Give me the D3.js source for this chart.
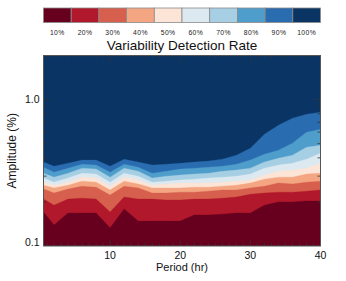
<!DOCTYPE html>
<html>
<head>
<meta charset="utf-8">
<script src="https://cdn.jsdelivr.net/npm/d3@7"></script>
<style>
  body { margin: 0; background: #fff; }
  svg { display: block; font-family: "Liberation Sans", Arial, sans-serif; }
</style>
</head>
<body>
<svg id="chart" width="346" height="281"></svg>
<script>
// period grid (hr)
const periods = [0.5, 2, 4, 6, 8, 10, 12, 14, 16, 18, 20, 22, 24, 26, 28, 30, 32, 34, 36, 38, 40];
const levelLabels = ["10%", "20%", "30%", "40%", "50%", "60%", "70%", "80%", "90%", "100%"];
const levelColors = ["#67001f", "#b2182b", "#d6604d", "#f4a582", "#fce4d6",
                     "#dde9f1", "#a6cfe4", "#4f9dcb", "#2a6cb0", "#0a3463"];

// amplitude (%) where detection rate crosses each level (upper edge of each band)
const edge10 = [0.171, 0.139, 0.168, 0.168, 0.168, 0.133, 0.179, 0.148, 0.148, 0.148, 0.148, 0.163, 0.163, 0.165, 0.168, 0.168, 0.190, 0.200, 0.200, 0.203, 0.203];
const edge20 = [0.209, 0.190, 0.209, 0.212, 0.209, 0.171, 0.216, 0.209, 0.209, 0.206, 0.206, 0.209, 0.209, 0.212, 0.216, 0.226, 0.230, 0.233, 0.233, 0.237, 0.241];
const edge30 = [0.245, 0.230, 0.245, 0.256, 0.252, 0.223, 0.256, 0.249, 0.230, 0.230, 0.233, 0.233, 0.237, 0.241, 0.241, 0.249, 0.256, 0.269, 0.265, 0.273, 0.277];
const edge40 = [0.260, 0.249, 0.260, 0.277, 0.273, 0.241, 0.277, 0.265, 0.249, 0.249, 0.249, 0.252, 0.252, 0.256, 0.260, 0.269, 0.286, 0.295, 0.295, 0.310, 0.314];
const edge50 = [0.273, 0.260, 0.273, 0.295, 0.291, 0.256, 0.295, 0.282, 0.260, 0.265, 0.269, 0.269, 0.269, 0.273, 0.277, 0.282, 0.305, 0.324, 0.330, 0.340, 0.368];
const edge60 = [0.291, 0.273, 0.291, 0.314, 0.310, 0.273, 0.314, 0.300, 0.273, 0.277, 0.282, 0.286, 0.291, 0.295, 0.300, 0.310, 0.340, 0.357, 0.368, 0.392, 0.430];
const edge70 = [0.314, 0.295, 0.314, 0.340, 0.335, 0.295, 0.340, 0.324, 0.291, 0.300, 0.305, 0.310, 0.314, 0.324, 0.330, 0.340, 0.374, 0.398, 0.417, 0.473, 0.488];
const edge80 = [0.345, 0.319, 0.340, 0.362, 0.357, 0.319, 0.362, 0.345, 0.314, 0.324, 0.335, 0.340, 0.345, 0.351, 0.362, 0.386, 0.424, 0.451, 0.504, 0.599, 0.627];
const edge90 = [0.374, 0.351, 0.368, 0.386, 0.386, 0.351, 0.392, 0.374, 0.357, 0.362, 0.368, 0.374, 0.380, 0.392, 0.417, 0.466, 0.580, 0.668, 0.746, 0.794, 0.819];
const edges = [edge10, edge20, edge30, edge40, edge50, edge60, edge70, edge80, edge90];

const xTicks = [10, 20, 30, 40];
const yTicks = [0.1, 1.0];

const plot = { left: 43.5, right: 320.5, top: 55.5, bottom: 246 };
const svg = d3.select("#chart");

const x = d3.scaleLinear().domain([0.5, 40]).range([plot.left, plot.right]);
const y = d3.scaleLog().domain([0.1, 2.0]).range([plot.bottom, plot.top]);

// --- colour bar ---
const bar = { left: 43.5, right: 320.5, top: 8, bottom: 22.5 };
const cb = d3.scaleBand().domain(levelLabels).range([bar.left, bar.right]);
svg.append("g").selectAll("rect")
    .data(levelLabels)
    .enter().append("rect")
    .attr("x", d => cb(d))
    .attr("y", bar.top)
    .attr("width", cb.bandwidth())
    .attr("height", bar.bottom - bar.top)
    .attr("fill", (d, i) => levelColors[i])
    .attr("stroke", "#8a8a8a")
    .attr("stroke-width", 0.8);
svg.append("g").selectAll("text")
    .data(levelLabels)
    .enter().append("text")
    .attr("x", d => cb(d) + cb.bandwidth() / 2)
    .attr("y", 35)
    .attr("text-anchor", "middle")
    .style("font-size", "6.8px")
    .style("letter-spacing", "0.4px")
    .attr("fill", "#222")
    .text(d => d);
svg.append("text")
    .attr("x", (bar.left + bar.right) / 2)
    .attr("y", 50)
    .attr("text-anchor", "middle")
    .style("font-size", "13.5px")
    .attr("fill", "#111")
    .text("Variability Detection Rate");

// --- contour bands ---
svg.append("defs").append("clipPath").attr("id", "plotclip")
    .append("rect")
    .attr("x", plot.left).attr("y", plot.top)
    .attr("width", plot.right - plot.left).attr("height", plot.bottom - plot.top);

const g = svg.append("g").attr("clip-path", "url(#plotclip)");
g.append("rect")
    .attr("x", plot.left).attr("y", plot.top)
    .attr("width", plot.right - plot.left).attr("height", plot.bottom - plot.top)
    .attr("fill", levelColors[9]);

// draw from the top band down so lower bands sit on top
for (let k = edges.length - 1; k >= 0; k--) {
    const area = d3.area()
        .x((d, i) => x(periods[i]))
        .y0(y(0.1))
        .y1(d => y(d));
    g.append("path")
        .datum(edges[k])
        .attr("d", area)
        .attr("fill", levelColors[k])
        .attr("stroke", levelColors[k])
        .attr("stroke-width", 0.3);
}

// --- axes: ticks inward on all four sides ---
const minorX = d3.range(1, 40);
const minorY = [0.2, 0.3, 0.4, 0.5, 0.6, 0.7, 0.8, 0.9, 2.0];
const ticks = svg.append("g").attr("stroke", "#333").attr("stroke-width", 0.8);
minorX.forEach(v => {
    const len = v % 10 === 0 ? 6 : 3;
    ticks.append("line").attr("x1", x(v)).attr("x2", x(v)).attr("y1", plot.bottom).attr("y2", plot.bottom - len);
    ticks.append("line").attr("x1", x(v)).attr("x2", x(v)).attr("y1", plot.top).attr("y2", plot.top + len);
});
minorY.concat([1.0]).forEach(v => {
    const len = v === 1.0 ? 6 : 3;
    ticks.append("line").attr("x1", plot.left).attr("x2", plot.left + len).attr("y1", y(v)).attr("y2", y(v));
    ticks.append("line").attr("x1", plot.right).attr("x2", plot.right - len).attr("y1", y(v)).attr("y2", y(v));
});
svg.append("rect")
    .attr("x", plot.left).attr("y", plot.top)
    .attr("width", plot.right - plot.left).attr("height", plot.bottom - plot.top)
    .attr("fill", "none")
    .attr("stroke", "#555")
    .attr("stroke-width", 1);

svg.append("g").selectAll("text")
    .data(xTicks)
    .enter().append("text")
    .attr("x", d => x(d))
    .attr("y", 259)
    .attr("text-anchor", "middle")
    .style("font-size", "10.5px")
    .attr("fill", "#111")
    .text(d => d);
svg.append("g").selectAll("text")
    .data(yTicks)
    .enter().append("text")
    .attr("x", 39.5)
    .attr("y", d => d === 0.1 ? 245.5 : y(d) + 3.5)
    .attr("text-anchor", "end")
    .style("font-size", "10.5px")
    .attr("fill", "#111")
    .text(d => d.toFixed(1));

svg.append("text")
    .attr("x", (plot.left + plot.right) / 2)
    .attr("y", 271)
    .attr("text-anchor", "middle")
    .style("font-size", "11px")
    .attr("fill", "#111")
    .text("Period (hr)");
svg.append("text")
    .attr("transform", `translate(16, ${(plot.top + plot.bottom) / 2}) rotate(-90)`)
    .attr("text-anchor", "middle")
    .style("font-size", "12px")
    .attr("fill", "#111")
    .text("Amplitude (%)");
</script>
</body>
</html>
